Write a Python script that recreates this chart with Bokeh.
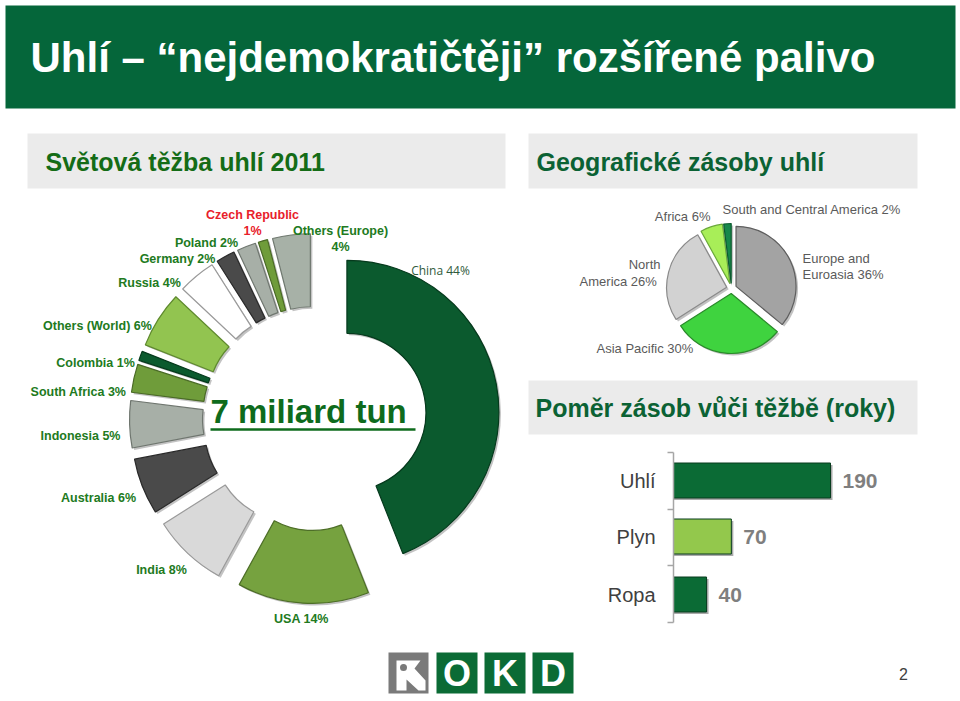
import math
from bokeh.plotting import figure
from bokeh.models import Range1d
from bokeh.core.properties import value
from bokeh.embed import file_html
from bokeh.resources import INLINE

# ---------------- data ----------------
title_text = "Uhlí – “nejdemokratičtěji” rozšířené palivo"
sub1_text = "Světová těžba uhlí 2011"
sub2_text = "Geografické zásoby uhlí"
sub3_text = "Poměr zásob vůči těžbě (roky)"
center_text = "7 miliard tun"

prod_names = ["China", "USA", "India", "Australia", "Indonesia", "South Africa",
              "Colombia", "Others (World)", "Russia", "Germany", "Poland",
              "Czech Republic", "Others (Europe)"]
prod_share = [44, 14, 8, 6, 5, 3, 1, 6, 4, 2, 2, 1, 4]

res_names = ["Europe and Euroasia", "Asia Pacific", "North America", "Africa",
             "South and Central America"]
res_share = [36, 30, 26, 6, 2]

ratio_cats = ["Uhlí", "Plyn", "Ropa"]
ratio_years = [190, 70, 40]

page_number = "2"
logo_letters = ["O", "K", "D"]

# ---------------- styles ----------------
W, H = 960, 701
def Y(yp):
    return H - yp

FONT = value("Liberation Sans")
GREEN_DARK = "#0b6b35"
LABEL_GREEN = "#217a21"

prod_colors = ["#0b5a2e", "#76a23f", "#d9d9d9", "#4a4a4a", "#a7afa7", "#6f9c3a",
               "#0b5a2e", "#92c450", "#ffffff", "#4a4a4a", "#a7afa7", "#6f9c3a", "#a7b1a7"]
prod_lines = ["#063a1d", "#4d6e27", "#9a9a9a", "#2a2a2a", "#6f766f", "#4a6a26",
              "#063a1d", "#5f8a2e", "#9a9a9a", "#2a2a2a", "#6f766f", "#4a6a26", "#6f786f"]
prod_label_xy = [(440, 270), (301, 618), (161, 569), (98, 497), (80, 435), (78, 391),
                 (95, 362), (97, 325), (149, 282), (177, 258), (206, 242),
                 (252, 214), (340, 230)]
prod_label_two_lines = [False] * 11 + [True, True]

res_colors = ["#a3a3a3", "#3fd33f", "#d2d2d2", "#a8ee58", "#17884a"]
res_lines = ["#5e5e5e", "#2a8a2a", "#8a8a8a", "#6aa83a", "#0b5a2e"]
bar_colors = [GREEN_DARK, "#93c84c", GREEN_DARK]

p = figure(width=W, height=H, x_range=Range1d(0, W), y_range=Range1d(0, H),
           output_backend="svg", toolbar_location=None, min_border=0)
p.axis.visible = False
p.grid.visible = False
p.outline_line_color = None
p.background_fill_color = "white"
p.border_fill_color = "white"

# ---------------- header ----------------
p.quad(left=[5], right=[955], top=[Y(5)], bottom=[Y(108)], fill_color="#05663a", line_color=None)
p.text(x=[30], y=[Y(57)], text=[title_text], text_font=FONT, text_font_style="bold",
       text_font_size="42px", text_color="white", text_baseline="middle", text_align="left")

# sub-title boxes
boxes = [(27, 505, 133, 188), (528, 917, 133, 188), (528, 917, 380, 434)]
p.quad(left=[b[0] for b in boxes], right=[b[1] for b in boxes],
       top=[Y(b[2]) for b in boxes], bottom=[Y(b[3]) for b in boxes],
       fill_color="#ebebeb", line_color=None)
p.text(x=[45], y=[Y(161)], text=[sub1_text], text_font=FONT, text_font_style="bold",
       text_font_size="25px", text_color="#146c16", text_baseline="middle")
p.text(x=[536], y=[Y(161)], text=[sub2_text], text_font=FONT, text_font_style="bold",
       text_font_size="25px", text_color="#0b6234", text_baseline="middle")
p.text(x=[535], y=[Y(407)], text=[sub3_text], text_font=FONT, text_font_style="bold",
       text_font_size="25px", text_color="#0b6234", text_baseline="middle")

# ---------------- production donut ----------------
C0x, C0y = 314, Y(418)
r_in, r_out, explode = 79, 152, 33
starts, ends, cxs, cys = [], [], [], []
cum = 0.0
for v in prod_share:
    a1 = 90 - cum * 3.6
    a0 = a1 - v * 3.6
    cum += v
    mid = math.radians((a0 + a1) / 2)
    starts.append(math.radians(a0))
    ends.append(math.radians(a1))
    cxs.append(C0x + explode * math.cos(mid))
    cys.append(C0y + explode * math.sin(mid))

p.annular_wedge(x=[c + 2 for c in cxs], y=[c - 2 for c in cys], inner_radius=r_in,
                outer_radius=r_out, start_angle=starts, end_angle=ends,
                fill_color="#7a7a7a", fill_alpha=0.45, line_color=None)
p.annular_wedge(x=cxs, y=cys, inner_radius=r_in, outer_radius=r_out,
                start_angle=starts, end_angle=ends, fill_color=prod_colors,
                line_color=prod_lines, line_width=1.2)

for i, (name, v) in enumerate(zip(prod_names, prod_share)):
    lx, ly = prod_label_xy[i]
    color = "#e8202a" if name == "Czech Republic" else LABEL_GREEN
    if name == "China":
        p.text(x=[lx], y=[Y(ly)], text=[f"{name} {v}%"], text_font=value("Open Sans"),
               text_font_size="12px", text_color="#2f5a3c", text_align="center",
               text_baseline="middle")
        continue
    lines = [name, f"{v}%"] if prod_label_two_lines[i] else [f"{name} {v}%"]
    for j, t in enumerate(lines):
        p.text(x=[lx], y=[Y(ly + 16 * j)], text=[t], text_font=FONT, text_font_style="bold",
               text_font_size="12.5px", text_color=color, text_align="center",
               text_baseline="middle")

p.text(x=[210], y=[Y(411)], text=[center_text], text_font=FONT, text_font_style="bold",
       text_font_size="33px", text_color="#0e6b1c", text_align="left", text_baseline="middle")
p.segment(x0=[210], y0=[Y(429)], x1=[415], y1=[Y(429)], line_color="#0e6b1c", line_width=2.5)

# ---------------- reserves pie ----------------
Px, Py = 731, Y(288)
pr, pe = 60, 5
ps, pe_, pxs, pys = [], [], [], []
cum = 0.0
for v in res_share:
    a1 = 90 - cum * 3.6
    a0 = a1 - v * 3.6
    cum += v
    mid = math.radians((a0 + a1) / 2)
    ps.append(math.radians(a0))
    pe_.append(math.radians(a1))
    pxs.append(Px + pe * math.cos(mid))
    pys.append(Py + pe * math.sin(mid))
p.wedge(x=[c + 2 for c in pxs], y=[c - 2 for c in pys], radius=pr, start_angle=ps,
        end_angle=pe_, fill_color="#777777", fill_alpha=0.45, line_color=None)
p.wedge(x=pxs, y=pys, radius=pr, start_angle=ps, end_angle=pe_, fill_color=res_colors,
        line_color=res_lines, line_width=1.2)

GRAY = "#5a5a5a"
res_labels = [
    (["Europe and", "Euroasia 36%"], 802, [258, 274], "left"),
    ([f"{res_names[1]} {res_share[1]}%"], 596, [348], "left"),
    (["North", f"America  {res_share[2]}%"], 660, [264, 281], "right"),
    ([f"{res_names[3]} {res_share[3]}%"], 710, [216], "right"),
    ([f"{res_names[4]} {res_share[4]}%"], 722, [209], "left"),
]
for lines, lx, lys, al in res_labels:
    for t, ly in zip(lines, lys):
        p.text(x=[lx], y=[Y(ly)], text=[t], text_font=FONT, text_font_size="13px",
               text_color=GRAY, text_align=al, text_baseline="middle")

# ---------------- ratio bar chart ----------------
k = 157 / 190.0
x0 = 673
p.extra_x_ranges = {"years": Range1d(-x0 / k, (W - x0) / k)}
bar_y = [Y(480), Y(536), Y(594)]
p.hbar(y=[b - 2 for b in bar_y], left=0, right=[v + 2 / k for v in ratio_years], height=35,
       fill_color="#555555", fill_alpha=0.5, line_color=None, x_range_name="years")
p.hbar(y=bar_y, left=0, right=ratio_years, height=35, fill_color=bar_colors,
       line_color="#083d1f", line_width=1, x_range_name="years")
p.text(x=ratio_years, y=bar_y, text=[str(v) for v in ratio_years], x_offset=12,
       text_font=FONT, text_font_style="bold", text_font_size="21px", text_color="#7f7f7f",
       text_align="left", text_baseline="middle", x_range_name="years")
p.text(x=[655] * 3, y=bar_y, text=ratio_cats, text_font=FONT, text_font_size="20px",
       text_color="#404040", text_align="right", text_baseline="middle")
p.segment(x0=[x0], y0=[Y(452)], x1=[x0], y1=[Y(622)], line_color="#a6a6a6", line_width=1.5)
ticks = [452, 509, 565, 622]
p.segment(x0=[x0 - 6] * 4, y0=[Y(t) for t in ticks], x1=[x0] * 4, y1=[Y(t) for t in ticks],
          line_color="#a6a6a6", line_width=1.5)

# ---------------- footer / logo ----------------
p.quad(left=[388], right=[428], top=[Y(652)], bottom=[Y(693)], fill_color="#7a7a7a", line_color=None)
sq_left = [436, 484, 532]
p.quad(left=sq_left, right=[s + 41 for s in sq_left], top=[Y(652)] * 3, bottom=[Y(693)] * 3,
       fill_color=GREEN_DARK, line_color=None)
p.text(x=[s + 20.5 for s in sq_left], y=[Y(673)] * 3, text=logo_letters, text_font=FONT,
       text_font_style="bold", text_font_size="36px", text_color="white",
       text_align="center", text_baseline="middle")
arrow_x = [396, 420, 414, 425, 425, 418, 406, 406, 396]
arrow_y = [660, 660, 668, 680, 690, 690, 679, 690, 690]
p.patch(x=arrow_x, y=[Y(v) for v in arrow_y], fill_color="white", line_color=None)
p.scatter(x=[403], y=[Y(667)], size=7, fill_color="#7a7a7a", line_color=None)
p.text(x=[903], y=[Y(673)], text=[page_number], text_font=FONT, text_font_size="16px",
       text_color="#404040", text_align="center", text_baseline="middle")

open("out.html", "w").write(file_html(p, INLINE))
